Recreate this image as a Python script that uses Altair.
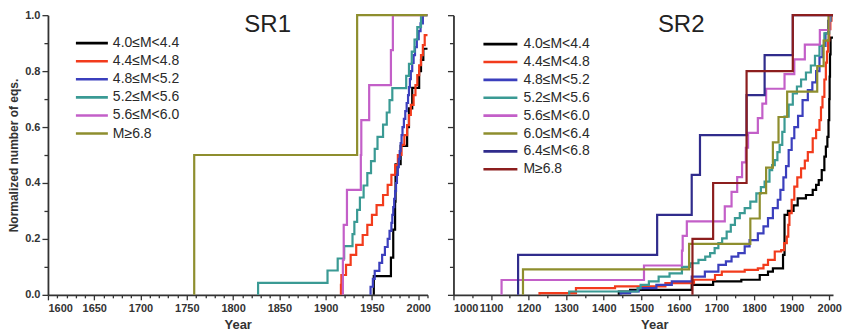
import altair as alt
import pandas as pd

FONT = "Liberation Sans"

# ---------------- SR1 (left panel) ----------------
names_left = ["4.0≤M<4.4", "4.4≤M<4.8", "4.8≤M<5.2", "5.2≤M<5.6", "5.6≤M<6.0", "M≥6.8"]
colors_left = ["#000000", "#f23b1c", "#3b3fbd", "#3a9a94", "#c35fc8", "#8e8e2e"]

l_black_years = [1952, 1952, 1970.5, 1973, 1975, 1975.5, 1981, 1988, 1990, 1993.5, 2001, 2003, 2005.5, 2010]
l_black_vals = [0, .067, .133, .233, .333, .467, .533, .6, .667, .74, .8, .84, .88, .88]

l_red_years = [1916.5, 1916.5, 1917, 1922, 1927, 1933, 1940, 1945, 1950, 1955, 1962, 1967, 1971, 1975,
               1978, 1982, 1985, 1988, 1990, 1992, 1995, 1997, 1999, 2001, 2003, 2005, 2007, 2010]
l_red_vals = [0, .036, .071, .107, .143, .179, .214, .25, .286, .321, .357, .393, .429, .464,
              .5, .536, .571, .607, .643, .679, .714, .75, .786, .821, .857, .893, .929, .929]

l_blue_years = [1948.5, 1948.5, 1951, 1953, 1958, 1961, 1964, 1967, 1969, 1971, 1972, 1973, 1974, 1975,
                1976, 1977, 1978, 1979, 1980, 1981, 1982, 1983, 1984.5, 1986, 1987.5, 1989, 1990, 1991,
                1992, 1993.5, 1995, 1996.5, 1998.5, 2000.5, 2002.5, 2005, 2010]
l_blue_vals = [0, .029, .057, .086, .114, .143, .171, .2, .229, .257, .286, .314, .343, .371,
               .4, .429, .457, .486, .514, .543, .571, .6, .629, .657, .686, .714, .743, .771,
               .8, .829, .857, .886, .914, .943, .971, 1.0, 1.0]

l_teal_years = [1827, 1827, 1902, 1913, 1920, 1929, 1931, 1934, 1937, 1941, 1945, 1949, 1953, 1956,
                1962, 1966, 1969, 1972, 1987, 1990, 1993, 1996, 1999, 2003, 2010]
l_teal_vals = [0, .043, .087, .13, .174, .217, .261, .304, .348, .391, .435, .478, .522, .565,
               .609, .652, .696, .739, .783, .826, .87, .913, .957, 1.0, 1.0]

l_mag_years = [1918.6, 1918.6, 1919.5, 1923, 1938, 1938.5, 1947, 1970.5, 1972.6, 2010]
l_mag_vals = [0, .125, .25, .375, .5, .625, .75, .875, 1.0, 1.0]

l_olive_years = [1758, 1758, 1934, 2010]
l_olive_vals = [0, .5, 1.0, 1.0]

left_years = [l_black_years, l_red_years, l_blue_years, l_teal_years, l_mag_years, l_olive_years]
left_vals = [l_black_vals, l_red_vals, l_blue_vals, l_teal_vals, l_mag_vals, l_olive_vals]

# ---------------- SR2 (right panel) ----------------
names_right = ["4.0≤M<4.4", "4.4≤M<4.8", "4.8≤M<5.2", "5.2≤M<5.6", "5.6≤M<6.0",
               "6.0≤M<6.4", "6.4≤M<6.8", "M≥6.8"]
colors_right = ["#000000", "#f23b1c", "#3b3fbd", "#3a9a94", "#c35fc8", "#8e8e2e", "#302c8c", "#8c1e1e"]

r_black_years = [1440, 1440, 1470, 1634, 1691, 1766, 1815, 1837, 1850, 1877, 1881, 1890, 1905, 1916,
                 1938, 1956, 1965, 1972, 1980, 1987, 1991, 1995, 1998, 2000, 2001, 2002, 2003.5, 2010]
r_black_vals = [0, .012, .018, .036, .048, .054, .071, .083, .095, .143, .286, .3, .32, .345,
                .357, .375, .393, .41, .446, .494, .53, .565, .625, .7, .78, .86, .92, .92]

r_red_years = [1229, 1229, 1326, 1430, 1564, 1640, 1696, 1714, 1775, 1810, 1825, 1837, 1855, 1872,
               1880, 1887, 1891, 1894, 1900, 1907, 1915, 1925, 1935, 1943, 1956, 1965, 1974, 1978,
               1982, 1987, 1991, 1994, 1997, 2000, 2003, 2006, 2010]
r_red_vals = [0, .006, .024, .03, .042, .054, .071, .083, .089, .095, .107, .125, .155, .16,
              .185, .208, .25, .292, .34, .387, .42, .452, .48, .51, .56, .59, .625, .67,
              .708, .77, .83, .87, .91, .95, .98, 1.0, 1.0]

r_blue_years = [1445, 1445, 1470, 1493, 1540, 1581, 1634, 1669, 1705, 1725, 1740, 1758, 1775, 1788,
                1810, 1825, 1837, 1850, 1863, 1870, 1878, 1885, 1892, 1900, 1907, 1917, 1929, 1943,
                1955, 1965, 1974, 1982, 1990, 1997, 2003, 2010]
r_blue_vals = [0, .006, .012, .024, .036, .048, .065, .083, .107, .12, .137, .149, .173, .196,
               .22, .245, .274, .31, .34, .375, .42, .46, .518, .56, .6, .64, .696, .732,
               .76, .8, .85, .89, .935, .98, 1.0, 1.0]

r_teal_years = [1308, 1308, 1490, 1498, 1520, 1546, 1575, 1608, 1630, 1652, 1670, 1683, 1695, 1705,
                1715, 1727, 1738, 1749, 1762, 1775, 1790, 1806, 1818, 1828, 1841, 1848, 1855, 1862,
                1868, 1875, 1881, 1892, 1903, 1914, 1925, 1938, 1951, 1962, 1974, 1987, 2000, 2003, 2010]
r_teal_vals = [0, .012, .024, .036, .048, .065, .077, .1, .113, .125, .137, .149, .167, .185,
               .202, .226, .25, .274, .292, .31, .333, .363, .385, .405, .446, .464, .482, .51,
               .536, .583, .637, .68, .72, .745, .77, .795, .82, .855, .89, .935, .98, 1.0, 1.0]

r_mag_years = [1128, 1128, 1507, 1608, 1610, 1621, 1722, 1740, 1755, 1768, 1778, 1784, 1810, 1822,
               1832, 1881, 1907, 1935, 1975, 2000, 2010]
r_mag_vals = [0, .053, .105, .158, .211, .263, .316, .368, .421, .474, .526, .579, .632, .684,
              .737, .789, .842, .895, .947, 1.0, 1.0]

r_olive_years = [1185, 1185, 1627, 1790, 1815, 1832, 1850, 1865, 1888, 1968, 1985, 1998, 2010]
r_olive_vals = [0, .091, .182, .273, .364, .455, .545, .636, .727, .818, .909, 1.0, 1.0]

r_navy_years = [1172, 1172, 1542, 1634, 1656, 1780, 1828, 1903, 2010]
r_navy_vals = [0, .143, .286, .429, .571, .714, .857, 1.0, 1.0]

r_maroon_years = [1636, 1636, 1691, 1780, 1903, 2010]
r_maroon_vals = [0, .2, .4, .8, 1.0, 1.0]

right_years = [r_black_years, r_red_years, r_blue_years, r_teal_years, r_mag_years,
               r_olive_years, r_navy_years, r_maroon_years]
right_vals = [r_black_vals, r_red_vals, r_blue_vals, r_teal_vals, r_mag_vals,
              r_olive_vals, r_navy_vals, r_maroon_vals]

y_ticks = [round(i * 0.1, 1) for i in range(11)]
left_x_ticks = list(range(1600, 2011, 10))
right_x_ticks = list(range(1000, 2001, 50))


def frame(names, years_list, vals_list):
    rows = []
    for name, ys, vs in zip(names, years_list, vals_list):
        for i, (yr, v) in enumerate(zip(ys, vs)):
            rows.append({"series": name, "year": yr, "value": v, "i": i})
    return pd.DataFrame(rows)


def panel(names, colors, years_list, vals_list, x_domain, x_ticks, major_step, title,
          title_x, leg_x0, leg_x1, leg_tx, leg_y0, leg_dy, y_labels, x_title_x, width):
    df = frame(names, years_list, vals_list)
    color = alt.Color("series:N", scale=alt.Scale(domain=names, range=colors), legend=None)
    major_x = f"datum.value % {major_step} === 0"
    major_y = "round(datum.value * 10) % 2 === 0"
    x_axis = alt.Axis(
        values=x_ticks, labelExpr=f"{major_x} ? datum.label : ''", format="d",
        tickSize={"condition": {"test": major_x, "value": 5}, "value": 3},
        labelOverlap=False, labelPadding=3, title="Year", titleFontSize=13,
        titleFontWeight="bold", titlePadding=5, titleX=x_title_x,
    )
    if y_labels:
        y_axis = alt.Axis(
            values=y_ticks, labelExpr=f"{major_y} ? datum.label : ''", format=".1f",
            tickSize={"condition": {"test": major_y, "value": 6}, "value": 4},
            labelOverlap=False, labelPadding=2, title="Normalized number of eqs.",
            titleFontSize=12, titleFontWeight="bold", titlePadding=4,
        )
    else:
        y_axis = alt.Axis(
            values=y_ticks, labels=False, title=None,
            tickSize={"condition": {"test": major_y, "value": 6}, "value": 4},
        )
    lines = alt.Chart(df).mark_line(interpolate="step-after", strokeWidth=2.2).encode(
        x=alt.X("year:Q", scale=alt.Scale(domain=x_domain, nice=False, zero=False), axis=x_axis),
        y=alt.Y("value:Q", scale=alt.Scale(domain=[0, 1], nice=False), axis=y_axis),
        color=color,
        order=alt.Order("i:Q"),
    )
    n = len(names)
    leg_df = pd.DataFrame({"series": names, "row": list(range(n))})
    ly = alt.Y("row:Q", scale=alt.Scale(domain=[0, n - 1], range=[leg_y0, leg_y0 + (n - 1) * leg_dy]),
               axis=None)
    rules = alt.Chart(leg_df).mark_rule(strokeWidth=2.6).encode(
        x=alt.value(leg_x0), x2=alt.value(leg_x1), y=ly, color=color)
    texts = alt.Chart(leg_df).mark_text(align="left", baseline="middle", fontSize=14, font=FONT,
                                        color="#2a2a2a").encode(
        x=alt.value(leg_tx), y=ly, text="series:N")
    ttl = alt.Chart(pd.DataFrame({"t": [title]})).mark_text(
        align="center", baseline="middle", fontSize=24, font=FONT, color="#222222").encode(
        x=alt.value(title_x), y=alt.value(10), text="t:N")
    return alt.layer(lines, rules, texts, ttl).resolve_scale(y="independent").properties(
        width=width, height=280)


left = panel(names_left, colors_left, left_years, left_vals, [1600, 2010], left_x_ticks, 50,
             "SR1", 220, 28, 60, 65, 28, 18.1, True, 190, 380)
right = panel(names_right, colors_right, right_years, right_vals, [1000, 2010], right_x_ticks, 100,
              "SR2", 228, 30, 64, 70, 29, 17.9, False, 201, 380)

chart = alt.hconcat(left, right, spacing=14).resolve_scale(
    color="independent", x="independent", y="independent"
).properties(
    padding={"left": 7, "top": 9, "right": 0, "bottom": 0}
).configure_view(stroke=None).configure_axis(
    labelFont=FONT, labelFontSize=11, labelFontWeight="bold", labelColor="#333333",
    titleFont=FONT, titleColor="#333333", domainColor="#333333", domainWidth=1.8,
    tickColor="#333333", tickWidth=1.3, grid=False,
)

chart.save("out.html", embed_options={"renderer": "svg", "actions": False})
